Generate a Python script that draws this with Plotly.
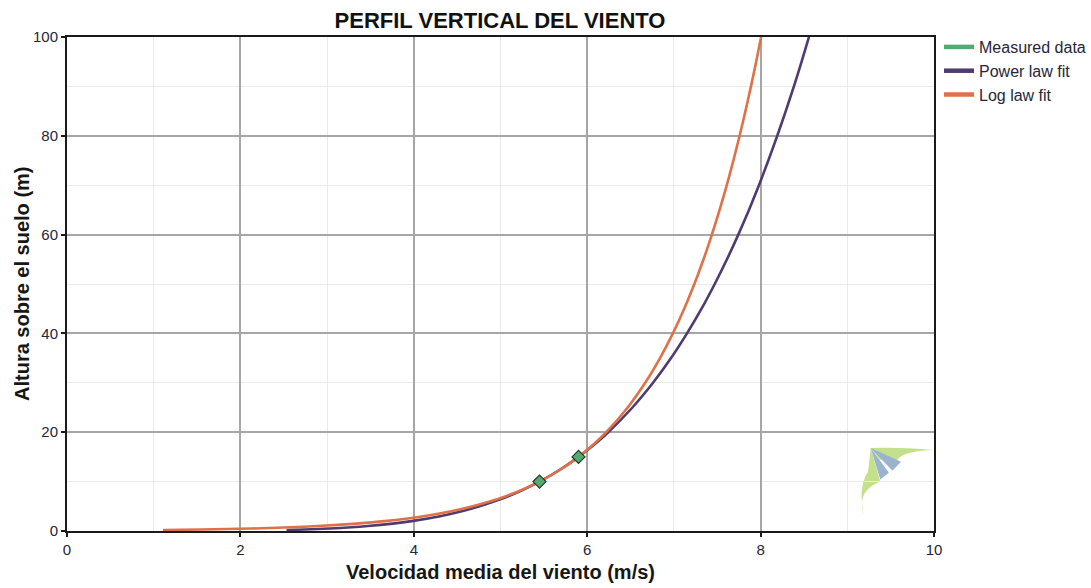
import plotly.graph_objects as go

# Heights (m) at which the fitted profiles are drawn
heights = [0.2, 0.3, 0.5, 0.75, 1, 1.5, 2, 3, 4, 5, 6, 7, 8, 10, 12.5, 15,
           17.5, 20, 25, 30, 35, 40, 45, 50, 55, 60, 65, 70, 75, 80, 85,
           90, 95, 100]

# Wind speed (m/s) of the power-law fit at each height
power_speed = [2.532, 2.741, 3.030, 3.280, 3.470, 3.758, 3.975, 4.304,
               4.554, 4.758, 4.931, 5.082, 5.217, 5.450, 5.694, 5.901,
               6.082, 6.243, 6.522, 6.759, 6.967, 7.151, 7.319, 7.471,
               7.612, 7.743, 7.866, 7.981, 8.089, 8.192, 8.290, 8.384,
               8.473, 8.558]

# Wind speed (m/s) of the logarithmic-law fit at each height
log_speed = [1.107, 1.557, 2.124, 2.574, 2.894, 3.344, 3.663, 4.113,
             4.433, 4.680, 4.883, 5.054, 5.202, 5.450, 5.697, 5.900,
             6.071, 6.219, 6.467, 6.669, 6.840, 6.988, 7.119, 7.236,
             7.342, 7.438, 7.527, 7.610, 7.686, 7.758, 7.825, 7.889,
             7.949, 8.006]

# Measured mean wind speed at the sensor heights
measured_height = [10, 15]
measured_speed = [5.45, 5.90]

x_ticks = [0, 2, 4, 6, 8, 10]
y_ticks = [0, 20, 40, 60, 80, 100]

GREEN = "#55a973"
PURPLE = "#4f3b6f"
ORANGE = "#df7149"
FONT = "Liberation Sans, Arial, sans-serif"
TXT = "#26263a"

fig = go.Figure()

fig.add_trace(go.Scatter(
    x=power_speed, y=heights, name="Power law fit", mode="lines",
    line=dict(color=PURPLE, width=2.6, shape="spline", smoothing=0.6),
    showlegend=False))
fig.add_trace(go.Scatter(
    x=log_speed, y=heights, name="Log law fit", mode="lines",
    line=dict(color=ORANGE, width=2.6, shape="spline", smoothing=0.6),
    showlegend=False))
fig.add_trace(go.Scatter(
    x=measured_speed, y=measured_height, name="Measured data", mode="markers",
    marker=dict(symbol="diamond", size=10, color=GREEN,
                line=dict(color="#1f3a2a", width=1.2)),
    showlegend=False))

# Legend entries drawn as thick line samples
for name, color in [("Measured data", GREEN), ("Power law fit", PURPLE),
                    ("Log law fit", ORANGE)]:
    fig.add_trace(go.Scatter(x=[None], y=[None], name=name, mode="lines",
                             line=dict(color=color, width=4.5)))

# Small logo in the lower-right corner of the plot area
logo_green = "#c3e08a"
logo_blue = "#9ab3cf"
fig.add_shape(type="path", xref="x", yref="y", layer="below",
              path="M 9.27 16.8 Q 9.60 17.0 9.99 16.4 Q 9.58 16.2 9.55 13.5 "
                   "L 9.37 14.5 Z",
              fillcolor=logo_green, line=dict(width=0))
fig.add_shape(type="path", xref="x", yref="y", layer="below",
              path="M 9.27 16.8 L 9.38 10.0 Q 9.10 8.0 9.19 3.3 "
                   "Q 9.12 9.0 9.24 12.0 Z",
              fillcolor=logo_green, line=dict(width=0))
fig.add_shape(type="path", xref="x", yref="y", layer="below",
              path="M 9.27 16.8 L 9.62 14.0 L 9.52 12.2 Z",
              fillcolor=logo_blue, line=dict(width=0))
fig.add_shape(type="path", xref="x", yref="y", layer="below",
              path="M 9.27 16.8 L 9.38 10.4 L 9.48 11.8 Z",
              fillcolor=logo_blue, line=dict(width=0))

axis_common = dict(
    showline=True, linecolor="#1a1a1a", linewidth=2, mirror=True,
    ticks="outside", ticklen=4, tickcolor="#1a1a1a", tickwidth=1.5,
    showgrid=True, gridcolor="#a6a6a6", gridwidth=1.5,
    zeroline=False,
    tickfont=dict(family=FONT, size=15, color=TXT),
    minor=dict(showgrid=True, gridcolor="#ebebeb", gridwidth=1),
)

fig.update_xaxes(range=[0, 10], tickvals=x_ticks,
                 minor_dtick=1, minor_tick0=0, **axis_common)
fig.update_yaxes(range=[0, 100], tickvals=y_ticks,
                 minor_dtick=10, minor_tick0=0, **axis_common)

fig.update_layout(
    width=1091, height=588,
    margin=dict(l=67, r=157, t=37, b=57, autoexpand=False),
    paper_bgcolor="white", plot_bgcolor="white",
    title=dict(text="<b>PERFIL VERTICAL DEL VIENTO</b>",
               font=dict(family=FONT, size=22, color="#111111"),
               x=500 / 1091, xanchor="center", y=1 - 20 / 588,
               yanchor="middle"),
    legend=dict(xref="container", yref="container",
                x=939 / 1091, xanchor="left", y=1 - 30 / 588, yanchor="top",
                font=dict(family=FONT, size=16, color=TXT),
                itemwidth=30, tracegroupgap=0, bgcolor="rgba(0,0,0,0)",
                traceorder="normal"),
    annotations=[
        dict(text="<b>Velocidad media del viento (m/s)</b>",
             xref="paper", yref="paper", x=0.5, y=-41 / 494,
             xanchor="center", yanchor="middle", showarrow=False,
             font=dict(family=FONT, size=20, color="#161616")),
        dict(text="<b>Altura sobre el suelo (m)</b>",
             xref="paper", yref="paper", x=-45 / 867, y=0.5,
             xanchor="center", yanchor="middle", showarrow=False,
             textangle=-90,
             font=dict(family=FONT, size=20, color="#161616")),
    ],
)

fig.write_html("out.html")
